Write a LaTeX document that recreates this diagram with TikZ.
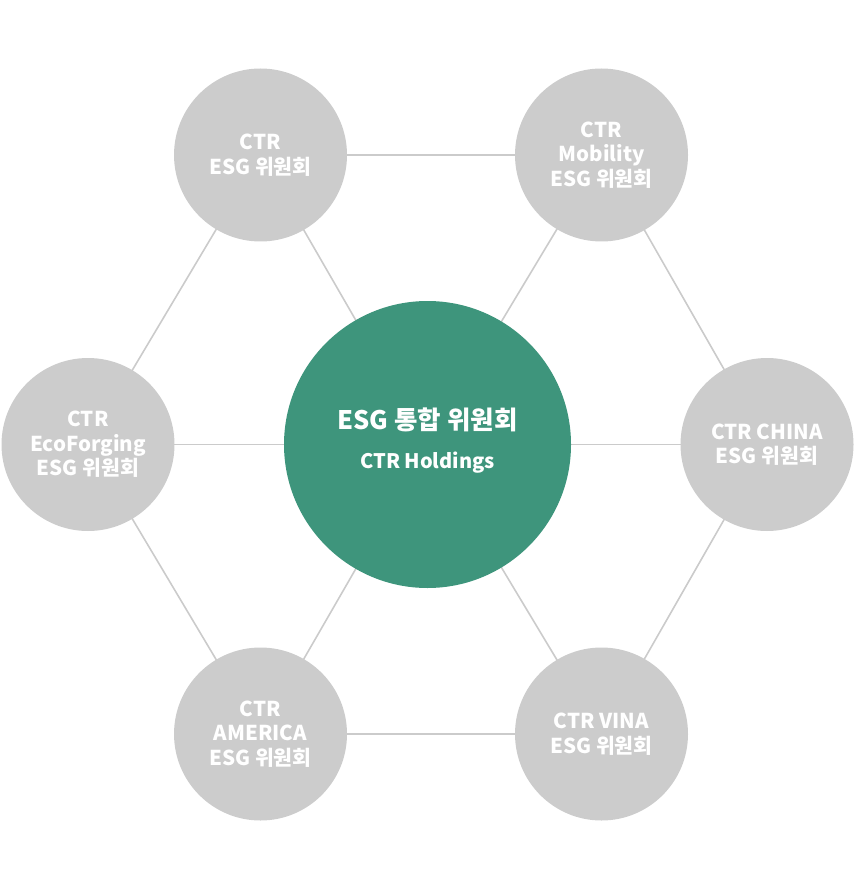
\documentclass[tikz,border=0pt]{standalone}
\usepackage{fontspec}
\setmainfont{Noto Sans CJK KR}
\usetikzlibrary{backgrounds}
\definecolor{hub}{HTML}{3E957C}
\definecolor{sat}{HTML}{CCCCCC}
\definecolor{link}{HTML}{CBCBCB}
\tikzset{
  satnode/.style={circle, fill=sat, minimum size=173pt, inner sep=0pt, align=center,
    text=white, font=\fontsize{20.5}{24.5}\selectfont\bfseries},
  hubnode/.style={circle, fill=hub, minimum size=287pt, inner sep=0pt, align=center, text=white},
  linkline/.style={draw=link, line width=1.6pt}
}
\begin{document}
\begin{tikzpicture}[x=1pt,y=-1pt]
\useasboundingbox (0,0) rectangle (857,890);
\node[hubnode] (hub) at (427.5,444.5) {};
\node[font=\fontsize{25.5}{28}\selectfont\bfseries, text=white] (hubtitle) at (427.5,420) {ESG 통합 위원회};
\node[font=\fontsize{20}{22}\selectfont\bfseries, text=white] (hubsub) at (427.5,463) {CTR Holdings};
\node[satnode] (tl) at (260.5,155) {CTR\\ESG 위원회};
\node[satnode] (tr) at (601.5,155) {CTR\\Mobility\\ESG 위원회};
\node[satnode] (l) at (88,444.5) {CTR\\EcoForging\\ESG 위원회};
\node[satnode] (r) at (767,444.5) {CTR CHINA\\ESG 위원회};
\node[satnode] (bl) at (260.5,734) {CTR\\AMERICA\\ESG 위원회};
\node[satnode] (br) at (601.5,734) {CTR VINA\\ESG 위원회};
\begin{scope}[on background layer]
  \draw[linkline] (tl.center) -- (tr.center) -- (r.center) -- (br.center) -- (bl.center) -- (l.center) -- (tl.center);
  \foreach \n in {tl,tr,l,r,bl,br} \draw[linkline] (hub.center) -- (\n.center);
\end{scope}
\end{tikzpicture}
\end{document}
